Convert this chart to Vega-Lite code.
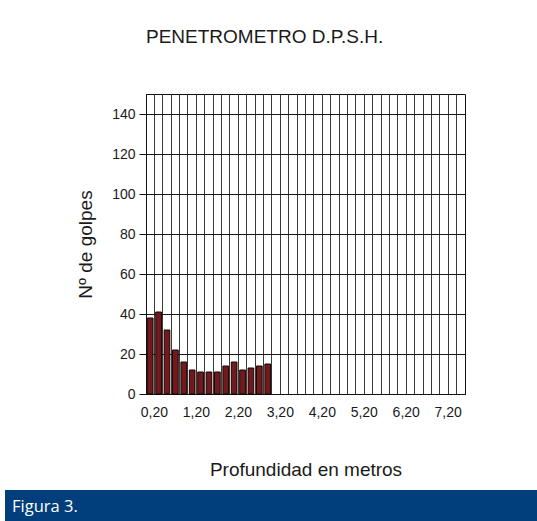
{
  "$schema": "https://vega.github.io/schema/vega-lite/v6.json",
  "background": "white",
  "padding": {"left": 5, "top": 27, "right": 0, "bottom": 0},
  "spacing": 10,
  "config": {"font": "Liberation Sans"},
  "vconcat": [
    {
      "spacing": 0,
      "hconcat": [
        {
          "width": 71,
          "height": 1,
          "view": {"stroke": null},
          "data": {"values": []},
          "mark": "point",
          "encoding": {}
        },
        {
          "width": 319,
          "height": 300,
          "title": {"text": "PENETROMETRO D.P.S.H.", "anchor": "start", "frame": "group", "fontSize": 19, "fontWeight": "normal", "color": "#1a1a1a", "offset": 47, "font": "Liberation Sans"},
          "view": {"stroke": "#111111", "strokeWidth": 1, "fill": "white"},
          "data": {"values": [
            {"profundidad": "0,20", "golpes": 38},
            {"profundidad": "0,40", "golpes": 41},
            {"profundidad": "0,60", "golpes": 32},
            {"profundidad": "0,80", "golpes": 22},
            {"profundidad": "1,00", "golpes": 16},
            {"profundidad": "1,20", "golpes": 12},
            {"profundidad": "1,40", "golpes": 11},
            {"profundidad": "1,60", "golpes": 11},
            {"profundidad": "1,80", "golpes": 11},
            {"profundidad": "2,00", "golpes": 14},
            {"profundidad": "2,20", "golpes": 16},
            {"profundidad": "2,40", "golpes": 12},
            {"profundidad": "2,60", "golpes": 13},
            {"profundidad": "2,80", "golpes": 14},
            {"profundidad": "3,00", "golpes": 15}
          ]},
          "mark": {"type": "bar", "width": {"band": 0.68}, "fill": "#72191d", "stroke": "#140404", "strokeWidth": 1},
          "encoding": {
            "x": {
              "field": "profundidad", "type": "ordinal", "sort": null,
              "scale": {"type": "band", "paddingInner": 0, "paddingOuter": 0,
                "domain": ["0,20","0,40","0,60","0,80","1,00","1,20","1,40","1,60","1,80","2,00","2,20","2,40","2,60","2,80","3,00","3,20","3,40","3,60","3,80","4,00","4,20","4,40","4,60","4,80","5,00","5,20","5,40","5,60","5,80","6,00","6,20","6,40","6,60","6,80","7,00","7,20","7,40","7,60"]},
              "axis": {
                "title": "Profundidad en metros", "titleFontSize": 19, "titleFontWeight": "normal", "titleColor": "#1a1a1a", "titlePadding": 41,
                "labelExpr": "test(/,20$/, datum.value) ? datum.value : ''",
                "labelAngle": 0, "labelFontSize": 14, "labelColor": "#1a1a1a", "labelPadding": 11, "labelOffset": 4.2,
                "bandPosition": 0, "ticks": false, "grid": true, "gridColor": "#3a3a3a", "gridWidth": 1, "gridOpacity": 1,
                "domain": true, "domainColor": "#111111"
              }
            },
            "y": {
              "field": "golpes", "type": "quantitative",
              "scale": {"domain": [0, 150], "nice": false},
              "axis": {
                "title": "Nº de golpes", "titleFontSize": 19, "titleFontWeight": "normal", "titleColor": "#1a1a1a", "titlePadding": 16,
                "values": [0, 20, 40, 60, 80, 100, 120, 140],
                "labelFontSize": 14, "labelColor": "#1a1a1a", "labelPadding": 4,
                "tickSize": 7, "tickColor": "#111111", "domainColor": "#111111",
                "grid": true, "gridColor": "#1a1a1a", "gridWidth": 1.2, "gridOpacity": 1
              }
            }
          }
        }
      ]
    },
    {
      "width": 532,
      "height": 31,
      "view": {"fill": "#003f7b", "stroke": null},
      "data": {"values": [{"pos": 0, "label": "Figura 3."}]},
      "mark": {"type": "text", "align": "left", "baseline": "middle", "dx": 7, "dy": 1, "fontSize": 16.5, "font": "Open Sans", "color": "white"},
      "encoding": {
        "x": {"field": "pos", "type": "quantitative", "scale": {"domain": [0, 1]}, "axis": null},
        "text": {"field": "label"}
      }
    }
  ]
}
